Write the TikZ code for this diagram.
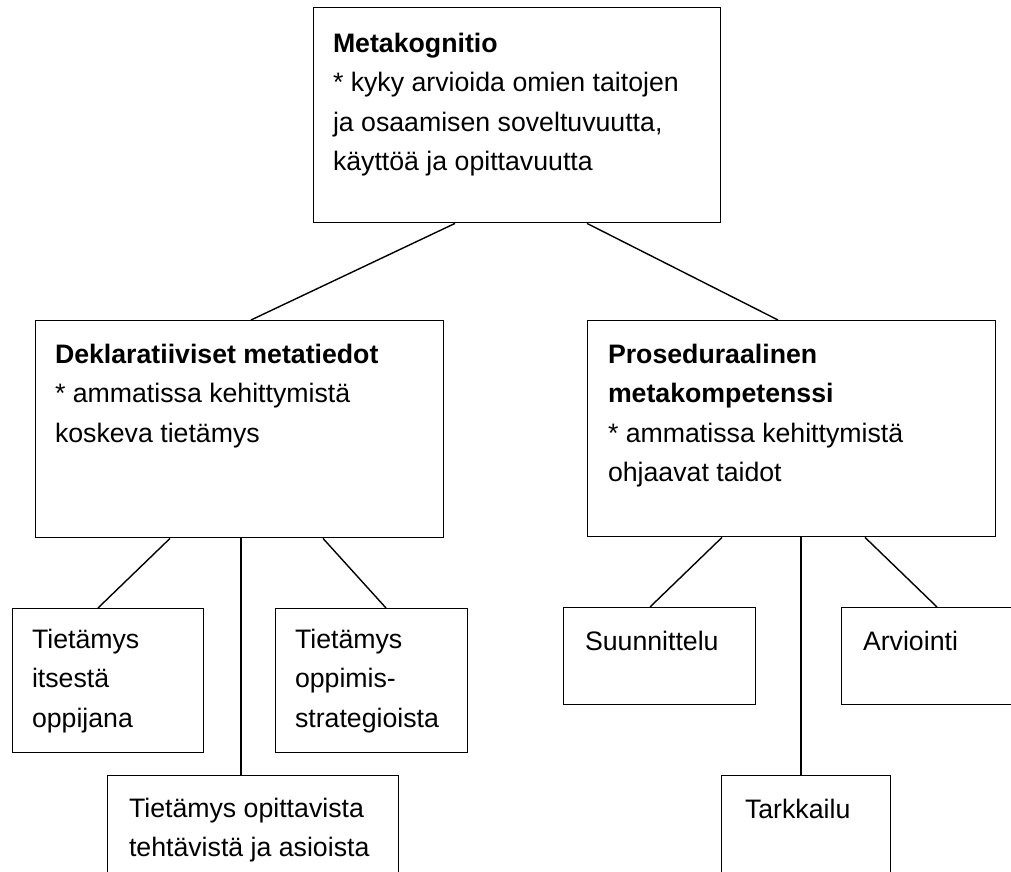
\documentclass[tikz,border=0pt]{standalone}
\usepackage{fontspec}
\setmainfont{Liberation Sans}
\newcommand{\boxlines}[1]{\begin{tabular}[t]{@{}l@{}}#1\end{tabular}}
\tikzset{
  frame/.style={draw=black, line width=1.4pt, fill=none, inner sep=0pt, anchor=north west},
  label/.style={anchor=base west, inner sep=0pt, outer sep=0pt,
                font=\fontsize{26.7}{39.5}\selectfont},
  link/.style={draw=black, line width=1.4pt}
}
\begin{document}
\begin{tikzpicture}[x=1pt, y=-1pt]
  \clip (0,0) rectangle (1011,871);
  \fill[white] (0,0) rectangle (1011,871);

  % boxes
  \node[frame, minimum width=407pt, minimum height=215pt] (meta)  at (313,7)   {};
  \node[frame, minimum width=408pt, minimum height=217pt] (dekl)  at (35,320)  {};
  \node[frame, minimum width=408pt, minimum height=216pt] (pros)  at (587,320) {};
  \node[frame, minimum width=191pt, minimum height=144pt] (itse)  at (12,608)  {};
  \node[frame, minimum width=192pt, minimum height=144pt] (strat) at (275,608) {};
  \node[frame, minimum width=291pt, minimum height=140pt] (tehta) at (107,775) {};
  \node[frame, minimum width=192pt, minimum height=97pt]  (suun)  at (563,607) {};
  \node[frame, minimum width=190pt, minimum height=97pt]  (arvi)  at (841,607) {};
  \node[frame, minimum width=169pt, minimum height=140pt] (tark)  at (721,775) {};

  % texts
  \node[label] (tmeta) at (333,52) {\boxlines{\textbf{Metakognitio}\\
    {*} kyky arvioida omien taitojen\\
    ja osaamisen soveltuvuutta,\\
    käyttöä ja opittavuutta}};
  \node[label] (tdekl) at (55,363) {\boxlines{\textbf{Deklaratiiviset metatiedot}\\
    {*} ammatissa kehittymistä\\
    koskeva tietämys}};
  \node[label] (tpros) at (608,363) {\boxlines{\textbf{Proseduraalinen}\\
    \textbf{metakompetenssi}\\
    {*} ammatissa kehittymistä\\
    ohjaavat taidot}};
  \node[label] (titse) at (32,648) {\boxlines{Tietämys\\itsestä\\oppijana}};
  \node[label] (tstrat) at (295,648) {\boxlines{Tietämys\\oppimis-\\strategioista}};
  \node[label] (ttehta) at (129,817) {\boxlines{Tietämys opittavista\\tehtävistä ja asioista}};
  \node[label] (tsuun) at (585,650) {Suunnittelu};
  \node[label] (tarvi) at (863,650) {Arviointi};
  \node[label] (ttark) at (745,818) {Tarkkailu};

  % connectors
  \draw[link] ([xshift=142pt]meta.south west) -- ([xshift=216pt]dekl.north west);
  \draw[link] ([xshift=274pt]meta.south west) -- ([xshift=191pt]pros.north west);
  \draw[link] ([xshift=135pt]dekl.south west) -- ([xshift=86pt]itse.north west);
  \draw[link] ([xshift=206pt]dekl.south west) -- ([xshift=134pt]tehta.north west);
  \draw[link] ([xshift=288pt]dekl.south west) -- ([xshift=111pt]strat.north west);
  \draw[link] ([xshift=135pt]pros.south west) -- ([xshift=87pt]suun.north west);
  \draw[link] ([xshift=214pt]pros.south west) -- ([xshift=80pt]tark.north west);
  \draw[link] ([xshift=278pt]pros.south west) -- ([xshift=96pt]arvi.north west);
\end{tikzpicture}
\end{document}
